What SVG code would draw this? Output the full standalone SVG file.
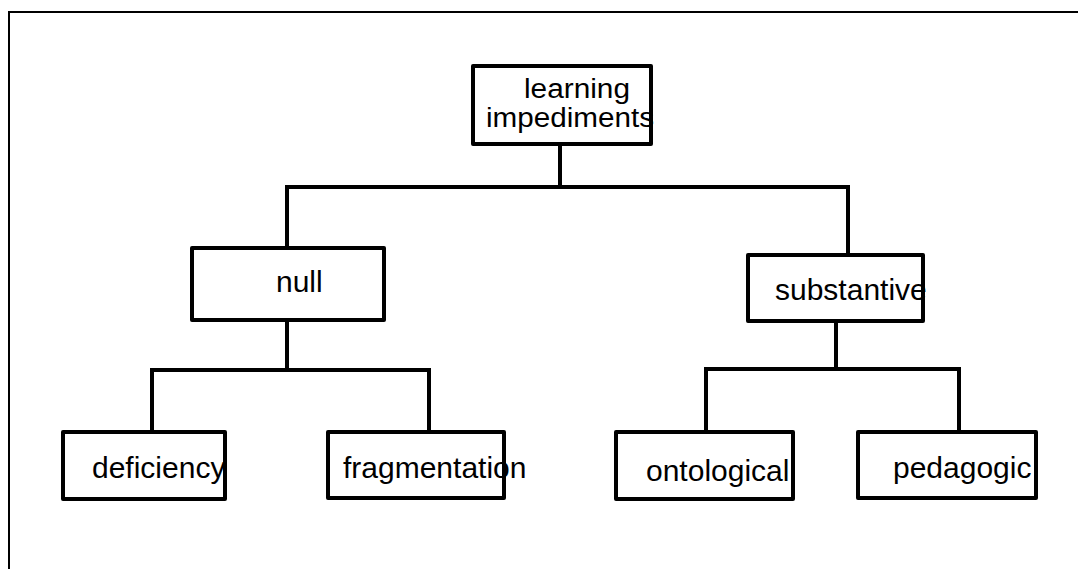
<svg xmlns="http://www.w3.org/2000/svg" width="1078" height="569" viewBox="0 0 1078 569">
  <style>
    .box { fill: #ffffff; stroke: #000000; stroke-width: 4; stroke-linejoin: round; }
    .wire { fill: none; stroke: #000000; stroke-width: 4; stroke-linejoin: miter; }
    .label { font-family: "Liberation Sans", Arial, sans-serif; font-size: 30px; fill: #000000; }
    .label.tight { font-size: 27px; }
    .frame { fill: none; stroke: #000000; stroke-width: 2; }
  </style>
  <rect width="1078" height="569" fill="#ffffff"/>
  <!-- outer frame: only top and left edges -->
  <path class="frame" d="M9,569 V12 H1078"/>

  <g id="connectors">
    <path class="wire" d="M560,144 V187"/>
    <path class="wire" d="M287,248 V187 H848 V255"/>
    <path class="wire" d="M287,320 V370"/>
    <path class="wire" d="M152,432 V370 H429 V432"/>
    <path class="wire" d="M836,321 V369"/>
    <path class="wire" d="M706,432 V369 H959 V432"/>
  </g>

  <g id="learning-impediments">
    <rect class="box" x="473" y="66" width="178" height="78"/>
    <text class="label tight" x="524" y="98" textLength="106" lengthAdjust="spacingAndGlyphs">learning</text>
    <text class="label tight" x="486" y="127" textLength="168" lengthAdjust="spacingAndGlyphs">impediments</text>
  </g>
  <g id="null">
    <rect class="box" x="192" y="248" width="192" height="72"/>
    <text class="label" x="276" y="292">null</text>
  </g>
  <g id="substantive">
    <rect class="box" x="748" y="255" width="175" height="66"/>
    <text class="label" x="775" y="300">substantive</text>
  </g>
  <g id="deficiency">
    <rect class="box" x="63" y="432" width="162" height="67"/>
    <text class="label" x="92" y="478">deficiency</text>
  </g>
  <g id="fragmentation">
    <rect class="box" x="328" y="432" width="176" height="66"/>
    <text class="label" x="343" y="478">fragmentation</text>
  </g>
  <g id="ontological">
    <rect class="box" x="616" y="432" width="177" height="67"/>
    <text class="label" x="646" y="481">ontological</text>
  </g>
  <g id="pedagogic">
    <rect class="box" x="858" y="432" width="178" height="66"/>
    <text class="label" x="893" y="478">pedagogic</text>
  </g>
</svg>
